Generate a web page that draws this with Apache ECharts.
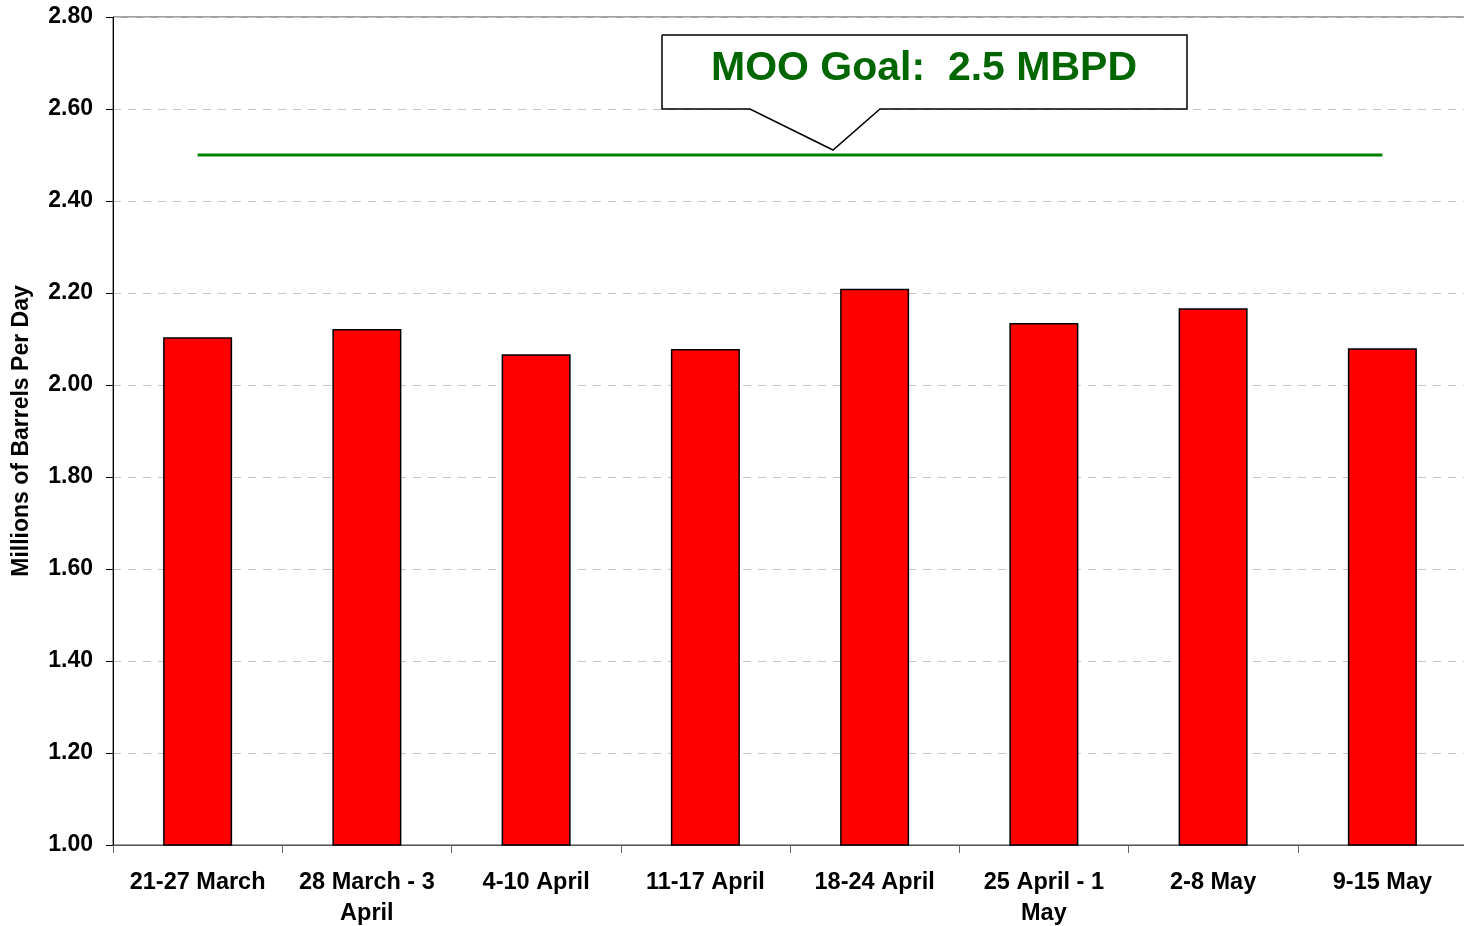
<!DOCTYPE html>
<html>
<head>
<meta charset="utf-8">
<script src="https://cdn.jsdelivr.net/npm/echarts@6/dist/echarts.min.js"></script>
<style>
  html, body { margin: 0; padding: 0; background: #fff; }
  #main { width: 1464px; height: 926px; }
</style>
</head>
<body>
<div id="main"></div>
<script>
// weekly categories
var weeks = ["21-27 March", "28 March - 3\nApril", "4-10 April", "11-17 April",
  "18-24 April", "25 April - 1\nMay", "2-8 May", "9-15 May"];
// production, millions of barrels per day
var production = [2.104, 2.122, 2.067, 2.078, 2.209, 2.135, 2.167, 2.080];
// MOO goal
var goal = [2.5, 2.5, 2.5, 2.5, 2.5, 2.5, 2.5, 2.5];
var goalText = "MOO Goal:  2.5 MBPD";

var font = "'Liberation Sans', Arial, sans-serif";
var chart = echarts.init(document.getElementById("main"));

var option = {
  animation: false,
  backgroundColor: "#fff",
  grid: {
    left: 113,
    right: -3,
    top: 17,
    bottom: 81,
    containLabel: false,
    outerBoundsMode: "none",
    show: true,
    borderColor: "#444",
    borderWidth: 1
  },
  xAxis: {
    type: "category",
    data: weeks,
    axisLine: { lineStyle: { color: "#555", width: 1 } },
    axisTick: { show: true, length: 8, lineStyle: { color: "#666" } },
    axisLabel: {
      color: "#000",
      fontFamily: font,
      fontWeight: "bold",
      fontSize: 23.5,
      lineHeight: 31,
      margin: 22,
      interval: 0
    }
  },
  yAxis: {
    type: "value",
    min: 1.0,
    max: 2.8,
    interval: 0.2,
    name: "Millions of Barrels Per Day",
    nameLocation: "middle",
    nameGap: 80,
    nameTextStyle: {
      color: "#000",
      fontFamily: font,
      fontWeight: "bold",
      fontSize: 23
    },
    axisLine: { show: true, lineStyle: { color: "#000", width: 1 } },
    axisTick: { show: true, length: 7, lineStyle: { color: "#000" } },
    axisLabel: {
      color: "#000",
      fontFamily: font,
      fontWeight: "bold",
      fontSize: 23,
      margin: 20,
      formatter: function (v) { return v.toFixed(2); }
    },
    splitLine: {
      show: true,
      lineStyle: { color: "#c4c4c4", type: [8, 7], width: 1 }
    }
  },
  series: [
    {
      type: "bar",
      data: production,
      barWidth: 69,
      itemStyle: { color: "#ff0000", borderColor: "#000", borderWidth: 1.5 },
      z: 2
    },
    {
      type: "line",
      data: goal,
      symbol: "none",
      lineStyle: { color: "#008000", width: 3 },
      z: 3
    }
  ],
  graphic: [
    {
      // callout box with pointer to the goal line
      type: "polyline",
      shape: {
        points: [[662, 35], [1187, 35], [1187, 109], [880, 109], [833, 150],
          [750, 109], [662, 109], [662, 35]]
      },
      style: { fill: "#fff", stroke: "#000", lineWidth: 1.5 },
      z: 10
    },
    {
      type: "text",
      style: {
        x: 924,
        y: 69,
        align: "center",
        verticalAlign: "middle",
        text: goalText,
        fill: "#006600",
        font: "bold 41px " + font
      },
      z: 11
    }
  ]
};
chart.setOption(option);
</script>
</body>
</html>
